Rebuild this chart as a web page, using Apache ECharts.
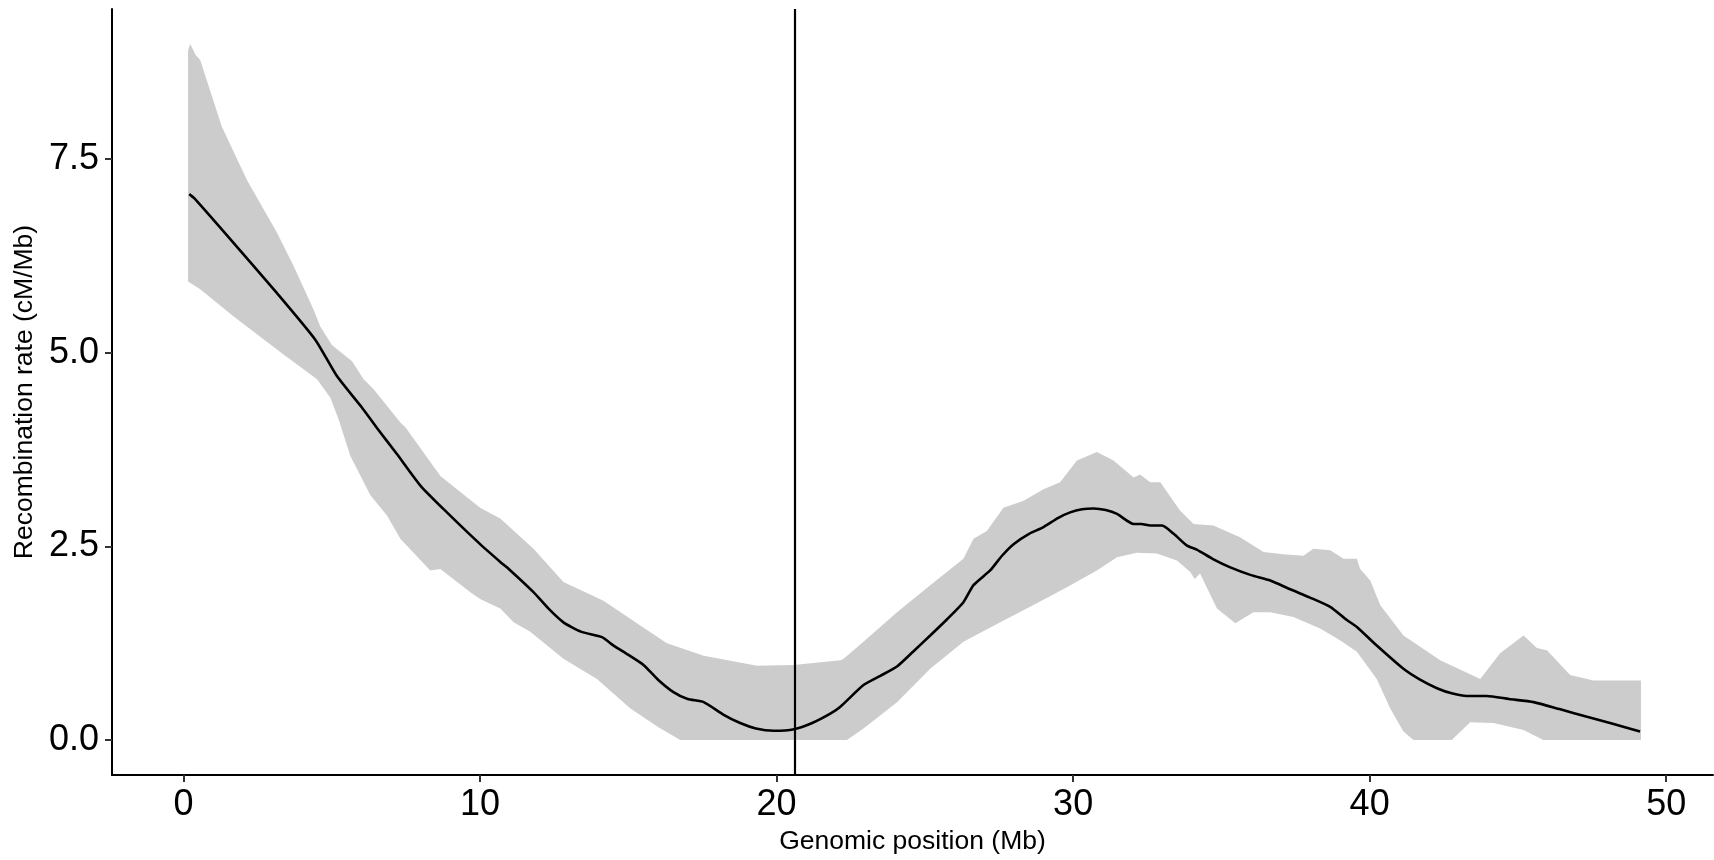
<!DOCTYPE html>
<html>
<head>
<meta charset="utf-8">
<script src="https://cdn.jsdelivr.net/npm/echarts@6/dist/echarts.min.js"></script>
<style>
  html, body { margin: 0; padding: 0; background: #ffffff; }
  #chart { width: 1714px; height: 860px; }
</style>
</head>
<body>
<div id="chart"></div>
<script>
// ---- Data ----
const xTicks = [0, 10, 20, 30, 40, 50];
const yTicks = [0, 2.5, 5, 7.5];
const xTitle = 'Genomic position (Mb)';
const yTitle = 'Recombination rate (cM/Mb)';
const markerX = [20.6];

// Smoothed recombination rate [position Mb, cM/Mb]
const rateLine = [
  [0.19,7.05],[0.35,7.0],[1.5,6.5],[3.15,5.77],[4.44,5.17],[5.17,4.7],[6.0,4.3],[6.52,4.03],
  [7.2,3.69],[8.0,3.28],[8.88,2.94],[10.0,2.53],[10.68,2.3],[11.02,2.19],[11.8,1.91],[12.3,1.7],
  [12.81,1.52],[13.4,1.4],[14.11,1.33],[14.5,1.22],[15.0,1.1],[15.51,0.97],[16.0,0.78],[16.52,0.62],
  [17.0,0.53],[17.54,0.49],[18.2,0.33],[18.77,0.22],[19.3,0.15],[19.9,0.12],[20.59,0.14],[21.2,0.22],
  [21.81,0.34],[22.15,0.43],[22.93,0.71],[23.5,0.83],[24.06,0.95],[24.6,1.14],[25.18,1.35],[25.75,1.56],
  [26.3,1.78],[26.64,2.0],[27.2,2.19],[27.6,2.38],[27.99,2.53],[28.5,2.66],[29.0,2.75],[29.5,2.87],
  [29.9,2.94],[30.3,2.98],[30.69,2.99],[31.1,2.97],[31.48,2.92],[32.04,2.79],[32.3,2.79],[32.6,2.77],
  [33.0,2.77],[33.4,2.66],[33.84,2.51],[34.17,2.46],[34.7,2.34],[35.3,2.23],[36.0,2.13],[36.65,2.06],
  [37.3,1.95],[37.99,1.84],[38.67,1.72],[39.23,1.55],[39.57,1.46],[40.24,1.22],[41.14,0.92],[41.7,0.78],
  [42.27,0.67],[42.8,0.6],[43.28,0.57],[43.95,0.57],[44.7,0.53],[45.53,0.49],[46.4,0.4],[47.33,0.3],
  [48.2,0.21],[49.12,0.11]
];

// Confidence band, upper edge
const bandUpper = [
  [0.15,8.9],[0.22,8.99],[0.4,8.85],[0.56,8.78],[1.29,7.92],[2.14,7.23],[3.15,6.55],[3.71,6.12],
  [4.38,5.56],[4.61,5.34],[5.0,5.1],[5.68,4.89],[6.07,4.66],[6.41,4.53],[7.31,4.1],[7.48,4.04],
  [8.66,3.41],[10.0,3.0],[10.68,2.86],[11.8,2.47],[12.81,2.04],[14.16,1.8],[15.4,1.48],[16.3,1.25],
  [17.54,1.09],[19.34,0.96],[20.57,0.97],[22.15,1.03],[22.26,1.05],[22.93,1.27],[24.06,1.65],[25.18,2.0],
  [26.3,2.34],[26.64,2.6],[27.09,2.7],[27.65,3.0],[28.33,3.09],[29.0,3.24],[29.56,3.33],[30.13,3.61],
  [30.8,3.72],[31.36,3.61],[32.04,3.39],[32.26,3.43],[32.6,3.33],[32.94,3.33],[33.61,2.96],[34.06,2.79],
  [34.73,2.77],[35.63,2.62],[36.42,2.43],[37.09,2.4],[37.77,2.38],[38.1,2.47],[38.67,2.45],[39.12,2.34],
  [39.57,2.34],[39.68,2.21],[40.02,2.06],[40.36,1.74],[41.14,1.35],[42.38,1.03],[43.73,0.79],[44.4,1.12],
  [45.19,1.35],[45.64,1.19],[45.98,1.16],[46.76,0.84],[47.55,0.77],[49.15,0.77]
];

// Confidence band, lower edge (clipped at 0)
const bandLower = [
  [0.15,5.92],[0.56,5.82],[1.69,5.47],[3.37,4.98],[4.5,4.66],[4.95,4.42],[5.23,4.14],[5.62,3.67],
  [6.3,3.16],[6.86,2.9],[7.31,2.6],[8.32,2.19],[8.66,2.21],[9.67,1.91],[10.0,1.82],[10.68,1.7],
  [11.13,1.52],[11.69,1.4],[12.81,1.05],[13.94,0.79],[15.06,0.41],[16.0,0.17],[16.75,0.0],[22.37,0.0],
  [22.93,0.15],[24.06,0.49],[25.18,0.92],[26.3,1.27],[27.43,1.5],[28.55,1.72],[29.68,1.95],[30.8,2.19],
  [31.48,2.36],[32.15,2.42],[32.82,2.41],[33.5,2.32],[33.95,2.17],[34.1,2.08],[34.28,2.15],[34.85,1.7],
  [35.47,1.51],[36.08,1.65],[36.65,1.65],[37.43,1.59],[38.33,1.44],[39.0,1.29],[39.57,1.14],[40.24,0.79],
  [40.69,0.41],[41.14,0.11],[41.48,0.0],[42.77,0.0],[43.39,0.23],[44.18,0.22],[45.19,0.13],[45.86,0.0],
  [49.15,0.0]
];

// ---- Chart ----
const FONT = "'Liberation Sans', Arial, Helvetica, sans-serif";
const chart = echarts.init(document.getElementById('chart'), null, { renderer: 'canvas' });

const option = {
  animation: false,
  backgroundColor: '#ffffff',
  grid: { left: 112, right: 1, top: 9, bottom: 83.3, containLabel: false },
  xAxis: {
    type: 'value',
    min: -2.415, max: 51.58,
    name: xTitle,
    nameLocation: 'middle',
    nameGap: 53,
    nameTextStyle: { fontFamily: FONT, fontSize: 26.5, color: '#000' },
    axisLine: { show: true, onZero: false, lineStyle: { color: '#000', width: 2 } },
    axisTick: { show: true, length: 7, lineStyle: { color: '#333', width: 2 }, customValues: xTicks },
    axisLabel: { fontFamily: FONT, fontSize: 36, color: '#000', margin: 12, customValues: xTicks,
                 formatter: v => String(v) },
    splitLine: { show: false }
  },
  yAxis: {
    type: 'value',
    min: -0.451, max: 9.44,
    name: yTitle,
    nameLocation: 'middle',
    nameRotate: 90,
    nameGap: 74,
    nameTextStyle: { fontFamily: FONT, fontSize: 26.5, color: '#000' },
    axisLine: { show: true, onZero: false, lineStyle: { color: '#000', width: 2 } },
    axisTick: { show: true, length: 7, lineStyle: { color: '#333', width: 2 }, customValues: yTicks },
    axisLabel: { fontFamily: FONT, fontSize: 36, color: '#000', margin: 13, customValues: yTicks,
                 formatter: v => Number(v).toFixed(1) },
    splitLine: { show: false }
  },
  series: [
    {
      type: 'custom',
      name: 'band',
      silent: true,
      z: 1,
      data: [[0, 0]],
      renderItem: function (params, api) {
        const pts = [];
        for (let i = 0; i < bandUpper.length; i++) pts.push(api.coord(bandUpper[i]));
        for (let i = bandLower.length - 1; i >= 0; i--) pts.push(api.coord(bandLower[i]));
        return { type: 'polygon', shape: { points: pts }, style: { fill: '#cccccc', stroke: null } };
      }
    },
    {
      type: 'line',
      name: 'rate',
      data: rateLine,
      z: 3,
      showSymbol: false,
      smooth: 0.2,
      lineStyle: { color: '#000', width: 2.6 },
      markLine: {
        silent: true,
        symbol: ['none', 'none'],
        label: { show: false },
        lineStyle: { color: '#000', width: 2.2, type: 'solid' },
        data: markerX.map(v => ({ xAxis: v }))
      }
    }
  ]
};
chart.setOption(option);
</script>
</body>
</html>
